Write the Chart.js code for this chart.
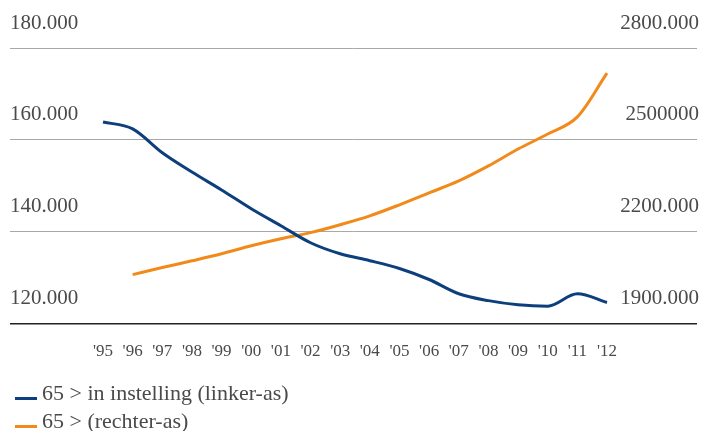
<!DOCTYPE html>
<html>
<head>
<meta charset="utf-8">
<script src="https://cdn.jsdelivr.net/npm/chart.js@4/dist/chart.umd.min.js"></script>
<style>
    body { margin: 0; background: #fff; }
    #wrap { position: relative; width: 712px; height: 431px; }
    #legend { position: absolute; left: 15px; top: 382px; font-family: 'Liberation Serif', serif; font-size: 22px; color: #4a4a4a; }
    #legend div { height: 22px; line-height: 22px; margin-bottom: 6px; white-space: nowrap; }
    #legend span.line { display: inline-block; width: 22px; height: 3px; margin-right: 5px; vertical-align: baseline; }
</style>
</head>
<body>
<div id="wrap">
    <canvas id="chart" width="712" height="431"></canvas>
    <div id="legend"></div>
</div>
<script>
// Data
const years = [1995, 1996, 1997, 1998, 1999, 2000, 2001, 2002, 2003, 2004, 2005, 2006, 2007, 2008, 2009, 2010, 2011, 2012];
const inInstelling = [163.9, 162.4, 157.2, 153.0, 149.1, 145.0, 141.3, 137.6, 135.2, 133.7, 132.0, 129.6, 126.5, 125.0, 124.1, 123.8, 126.5, 124.6];
const totaal65 = [null, 2060, 2083, 2105, 2128, 2154, 2177, 2197, 2223, 2252, 2288, 2327, 2366, 2415, 2470, 2519, 2575, 2718];
const leftTickLabels = { 120: '120.000', 140: '140.000', 160: '160.000', 180: '180.000' };
const rightTickLabels = { 1900: '1900.000', 2200: '2200.000', 2500: '2500000', 2800: '2800.000' };

const FONT = 'Liberation Serif';
const TEXT = '#4a4a4a';

function points(values) {
    return years.map((y, i) => ({ x: y, y: values[i] }));
}

const ctx = document.getElementById('chart').getContext('2d');
const chart = new Chart(ctx, {
    type: 'line',
    data: {
        datasets: [{
            label: '65 > in instelling (linker-as)',
            data: points(inInstelling),
            borderColor: '#0d3f7c',
            borderWidth: 3,
            pointRadius: 0,
            tension: 0.4,
            cubicInterpolationMode: 'monotone',
            yAxisID: 'y'
        }, {
            label: '65 > (rechter-as)',
            data: points(totaal65),
            borderColor: '#f18a1a',
            borderWidth: 3,
            pointRadius: 0,
            tension: 0.4,
            cubicInterpolationMode: 'monotone',
            yAxisID: 'y2'
        }]
    },
    options: {
        responsive: false,
        animation: false,
        layout: { padding: { left: 10, right: 11, top: 48, bottom: 59 } },
        plugins: { legend: { display: false }, tooltip: { enabled: false } },
        scales: {
            x: {
                type: 'linear',
                min: 1991.863,
                max: 2015.036,
                afterBuildTicks: scale => { scale.ticks = years.map(v => ({ value: v })); },
                grid: { display: false },
                border: { display: false },
                ticks: {
                    color: TEXT,
                    font: { family: FONT, size: 17 },
                    padding: 10,
                    maxRotation: 0,
                    autoSkip: false,
                    callback: v => "'" + String(v).slice(2)
                }
            },
            y: {
                position: 'left',
                min: 120,
                max: 180,
                grid: {
                    drawTicks: false,
                    color: c => c.tick.value === 120 ? '#222' : '#a8a8a8',
                    lineWidth: c => c.tick.value === 120 ? 1.6 : 1
                },
                border: { display: false },
                ticks: {
                    stepSize: 20,
                    mirror: true,
                    padding: 0,
                    labelOffset: -25,
                    color: TEXT,
                    font: { family: FONT, size: 21 },
                    callback: v => leftTickLabels[v] || ''
                }
            },
            y2: {
                position: 'right',
                min: 1900,
                max: 2800,
                grid: { display: false, drawTicks: false },
                border: { display: false },
                ticks: {
                    stepSize: 300,
                    mirror: true,
                    padding: 2,
                    labelOffset: -25,
                    color: TEXT,
                    font: { family: FONT, size: 21 },
                    callback: v => rightTickLabels[v] || ''
                }
            }
        }
    }
});

// HTML legend
const legend = document.getElementById('legend');
chart.data.datasets.forEach(ds => {
    const row = document.createElement('div');
    const line = document.createElement('span');
    line.className = 'line';
    line.style.background = ds.borderColor;
    row.appendChild(line);
    row.appendChild(document.createTextNode(ds.label));
    legend.appendChild(row);
});
</script>
</body>
</html>
